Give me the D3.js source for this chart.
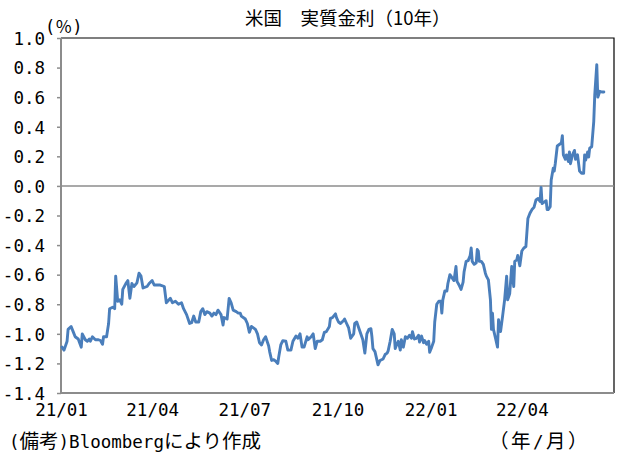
<!DOCTYPE html>
<html><head><meta charset="utf-8">
<script src="https://cdn.jsdelivr.net/npm/d3@7"></script>
<style>body{margin:0;background:#fff}svg{display:block}</style>
</head><body><svg id="c" width="642" height="461"></svg>
<script>
const titleText = "米国　実質金利（10年）";
const unitText = "(％)";
const sourceParts = [["(", "h"], ["備考", "f"], [")Bloomberg", "h"], ["により作成", "f"]];
const axisNoteParts = [["（", "f"], ["年", "f"], ["/", "h"], ["月", "f"], ["）", "f"]];
const yTicks = [1.0, 0.8, 0.6, 0.4, 0.2, 0.0, -0.2, -0.4, -0.6, -0.8, -1.0, -1.2, -1.4];
const xTickDates = ["2021-01-01","2021-04-01","2021-07-01","2021-10-01","2022-01-01","2022-04-01"];
const xTickLabels = ["21/01","21/04","21/07","21/10","22/01","22/04"];
const xDomain = ["2021-01-01","2022-07-01"];

const dates = [
"2021-01-02","2021-01-04","2021-01-07","2021-01-08","2021-01-11","2021-01-13","2021-01-15","2021-01-18","2021-01-21","2021-01-22",
"2021-01-25","2021-01-27","2021-01-29","2021-01-30","2021-02-01","2021-02-04","2021-02-07","2021-02-09","2021-02-11","2021-02-12",
"2021-02-15","2021-02-17","2021-02-18","2021-02-21","2021-02-23","2021-02-24","2021-02-26","2021-02-28","2021-03-02","2021-03-03",
"2021-03-06","2021-03-08","2021-03-10","2021-03-12","2021-03-14","2021-03-17","2021-03-19","2021-03-21","2021-03-23","2021-03-27",
"2021-03-29","2021-04-01","2021-04-03","2021-04-06","2021-04-09","2021-04-13","2021-04-15","2021-04-19","2021-04-21","2021-04-24",
"2021-04-27","2021-04-30","2021-05-02","2021-05-05","2021-05-08","2021-05-10","2021-05-12","2021-05-14","2021-05-17","2021-05-19",
"2021-05-21","2021-05-23","2021-05-25","2021-05-28","2021-05-30","2021-06-01","2021-06-03","2021-06-05","2021-06-08","2021-06-10",
"2021-06-11","2021-06-14","2021-06-16","2021-06-18","2021-06-20","2021-06-23","2021-06-25","2021-06-27","2021-06-28","2021-07-02",
"2021-07-04","2021-07-06","2021-07-08","2021-07-12","2021-07-14","2021-07-16","2021-07-18","2021-07-20","2021-07-22","2021-07-25",
"2021-07-26","2021-07-28","2021-07-30","2021-08-01","2021-08-03","2021-08-04","2021-08-06","2021-08-08","2021-08-11","2021-08-13",
"2021-08-16","2021-08-18","2021-08-21","2021-08-23","2021-08-25","2021-08-27","2021-08-29","2021-09-01","2021-09-02","2021-09-05",
"2021-09-07","2021-09-09","2021-09-11","2021-09-14","2021-09-16","2021-09-18","2021-09-20","2021-09-23","2021-09-24","2021-09-26",
"2021-09-29","2021-09-30","2021-10-02","2021-10-04","2021-10-07","2021-10-08","2021-10-10","2021-10-12","2021-10-14","2021-10-17",
"2021-10-18","2021-10-20","2021-10-22","2021-10-25","2021-10-26","2021-10-28","2021-10-30","2021-11-01","2021-11-03","2021-11-04",
"2021-11-05","2021-11-07","2021-11-10","2021-11-12","2021-11-15","2021-11-17","2021-11-19","2021-11-20","2021-11-22","2021-11-24",
"2021-11-26","2021-11-27","2021-11-28","2021-11-30","2021-12-02","2021-12-03","2021-12-05","2021-12-07","2021-12-09","2021-12-11",
"2021-12-13","2021-12-14","2021-12-16","2021-12-18","2021-12-20","2021-12-21","2021-12-23","2021-12-25","2021-12-26","2021-12-28",
"2021-12-30","2021-12-31","2022-01-02","2022-01-04","2022-01-05","2022-01-07","2022-01-09","2022-01-11","2022-01-12","2022-01-13",
"2022-01-15","2022-01-17","2022-01-18","2022-01-20","2022-01-22","2022-01-24","2022-01-26","2022-01-27","2022-01-29","2022-01-31",
"2022-02-02","2022-02-03","2022-02-05","2022-02-07","2022-02-09","2022-02-10","2022-02-11","2022-02-13","2022-02-15","2022-02-16",
"2022-02-17","2022-02-18","2022-02-20","2022-02-22","2022-02-24","2022-02-25","2022-02-27","2022-03-01","2022-03-02","2022-03-03",
"2022-03-04","2022-03-06","2022-03-08","2022-03-09","2022-03-11","2022-03-13","2022-03-15","2022-03-17","2022-03-18","2022-03-20",
"2022-03-22","2022-03-24","2022-03-25","2022-03-27","2022-03-28","2022-03-30","2022-04-01","2022-04-03","2022-04-05","2022-04-07",
"2022-04-09","2022-04-11","2022-04-13","2022-04-15","2022-04-17","2022-04-19","2022-04-20","2022-04-21","2022-04-23","2022-04-25",
"2022-04-26","2022-04-27","2022-04-29","2022-04-30","2022-05-02","2022-05-03","2022-05-04","2022-05-06","2022-05-08","2022-05-10",
"2022-05-11","2022-05-12","2022-05-14","2022-05-15","2022-05-17","2022-05-18","2022-05-19","2022-05-21","2022-05-23","2022-05-24",
"2022-05-26","2022-05-28","2022-05-30","2022-06-01","2022-06-02","2022-06-03","2022-06-05","2022-06-06","2022-06-07","2022-06-09",
"2022-06-11","2022-06-12","2022-06-14","2022-06-15","2022-06-17","2022-06-19","2022-06-21"
];
const values = [
-1.09,-1.11,-1.05,-0.97,-0.95,-0.985,-1.02,-1.035,-1.09,-1.00,
-1.04,-1.05,-1.035,-1.05,-1.02,-1.04,-1.04,-1.045,-1.07,-1.02,
-1.02,-0.93,-0.83,-0.82,-0.83,-0.61,-0.78,-0.77,-0.80,-0.70,
-0.66,-0.64,-0.76,-0.66,-0.68,-0.655,-0.59,-0.61,-0.69,-0.68,
-0.66,-0.64,-0.67,-0.67,-0.67,-0.68,-0.79,-0.76,-0.79,-0.78,
-0.80,-0.79,-0.83,-0.87,-0.93,-0.925,-0.88,-0.92,-0.92,-0.85,
-0.83,-0.87,-0.85,-0.86,-0.88,-0.86,-0.87,-0.84,-0.87,-0.94,
-0.89,-0.90,-0.76,-0.79,-0.84,-0.85,-0.86,-0.86,-0.88,-0.90,
-0.93,-0.99,-0.95,-0.97,-1.00,-1.06,-1.075,-1.04,-1.02,-1.08,
-1.12,-1.18,-1.175,-1.185,-1.20,-1.155,-1.075,-1.046,-1.05,-1.11,
-1.11,-1.05,-1.015,-1.03,-1.00,-1.09,-1.09,-1.02,-1.04,-1.02,
-1.00,-1.10,-1.05,-1.05,-1.04,-0.99,-0.985,-0.95,-0.895,-0.89,
-0.865,-0.89,-0.92,-0.93,-0.91,-0.90,-0.93,-0.96,-1.03,-1.00,
-0.93,-0.92,-0.96,-1.02,-1.04,-1.13,-1.00,-0.97,-0.965,-1.02,
-1.10,-1.12,-1.21,-1.18,-1.17,-1.14,-1.13,-1.115,-1.05,-0.97,
-1.00,-1.10,-1.08,-1.05,-1.11,-1.04,-1.09,-1.02,-1.03,-1.01,
-1.03,-0.985,-1.035,-1.03,-1.01,-1.055,-1.015,-1.06,-1.045,-1.07,
-1.05,-1.125,-1.09,-1.05,-0.92,-0.80,-0.78,-0.78,-0.86,-0.77,
-0.71,-0.71,-0.66,-0.60,-0.62,-0.64,-0.545,-0.645,-0.67,-0.70,
-0.65,-0.58,-0.51,-0.505,-0.47,-0.42,-0.51,-0.53,-0.52,-0.43,
-0.44,-0.51,-0.51,-0.53,-0.59,-0.61,-0.635,-0.77,-0.97,-0.86,
-0.97,-1.03,-1.09,-0.905,-0.985,-0.88,-0.77,-0.61,-0.77,-0.73,
-0.545,-0.68,-0.51,-0.50,-0.47,-0.54,-0.44,-0.42,-0.41,-0.22,
-0.185,-0.16,-0.145,-0.095,-0.085,-0.105,-0.01,-0.12,-0.11,-0.10,
-0.16,-0.16,-0.14,0.04,0.12,0.10,0.15,0.27,0.28,0.29,
0.34,0.21,0.18,0.21,0.165,0.23,0.15,0.21,0.24,0.18,
0.21,0.10,0.085,0.085,0.21,0.175,0.23,0.195,0.255,0.265,
0.435,0.615,0.82,0.60,0.64,0.635,0.635
];

const W = 642, H = 461;
const plot = {left: 61, right: 614, top: 38, bottom: 393};
const mono = "'DejaVu Sans Mono','Noto Sans CJK JP',monospace";
const cjk = "'Noto Sans CJK JP','DejaVu Sans',sans-serif";
const lineColor = "#4a7ebb";
const axisColor = "#8c8c8c";
const halfSize = 17.5, fullSize = 19.5;

const parse = d3.utcParse("%Y-%m-%d");
const data = dates.map((d, i) => ({date: parse(d), value: values[i]}));

const x = d3.scaleUtc().domain(xDomain.map(parse)).range([plot.left, plot.right]);
const y = d3.scaleLinear().domain([-1.4, 1.0]).range([plot.bottom, plot.top]);

const svg = d3.select("#c");
svg.append("rect").attr("width", W).attr("height", H).attr("fill", "#fff");

// plot frame (top & right)
svg.append("path")
  .attr("d", `M${plot.left},${y(1.0)}H${plot.right}V${plot.bottom}`)
  .attr("fill", "none").attr("stroke", "#000").attr("stroke-width", 1.2);

// zero line
svg.append("line")
  .attr("x1", plot.left).attr("x2", plot.right)
  .attr("y1", y(0)).attr("y2", y(0))
  .attr("stroke", axisColor).attr("stroke-width", 1.5);

// y axis
const yAxis = d3.axisLeft(y).tickValues(yTicks).tickSize(4).tickPadding(12)
  .tickFormat(d => d.toFixed(1));
const gy = svg.append("g").attr("transform", `translate(${plot.left},0)`).call(yAxis);
gy.select(".domain").attr("stroke", axisColor).attr("stroke-width", 2).attr("d", `M0,${plot.top}V${plot.bottom}`);
gy.selectAll(".tick line").attr("stroke", axisColor).attr("stroke-width", 1.5);
gy.selectAll(".tick text").attr("font-family", mono).attr("font-size", halfSize).attr("fill", "#000")
  .attr("dy", "0.36em");

// x axis
const xAxis = d3.axisBottom(x).tickValues(xTickDates.map(parse)).tickSize(0).tickPadding(11)
  .tickFormat((d, i) => xTickLabels[i]);
const gx = svg.append("g").attr("transform", `translate(0,${plot.bottom})`).call(xAxis);
gx.select(".domain").attr("stroke", axisColor).attr("stroke-width", 2).attr("d", `M${plot.left},0H${plot.right}`);
gx.selectAll(".tick text").attr("font-family", mono).attr("font-size", halfSize).attr("fill", "#000");

// line
const line = d3.line().x(d => x(d.date)).y(d => y(d.value));
svg.append("path").datum(data)
  .attr("d", line)
  .attr("fill", "none").attr("stroke", lineColor).attr("stroke-width", 2.9)
  .attr("stroke-linejoin", "round").attr("stroke-linecap", "round");

// title
svg.append("text").attr("x", 245).attr("y", 25)
  .attr("font-family", cjk).attr("font-size", 18.5).attr("fill", "#000")
  .text(titleText);

// unit
svg.append("text").attr("x", 45).attr("y", 33)
  .attr("font-family", mono).attr("font-size", 17).attr("fill", "#000")
  .text(unitText);

function partsText(parts, x0, y0, spacing) {
  const t = svg.append("text").attr("x", x0).attr("y", y0).attr("fill", "#000")
    .attr("letter-spacing", spacing);
  parts.forEach(([s, kind]) => {
    t.append("tspan")
      .attr("font-family", kind === "f" ? cjk : mono)
      .attr("font-size", kind === "f" ? fullSize : halfSize)
      .text(s);
  });
}
partsText(sourceParts, 9, 448, 0);
partsText(axisNoteParts, 489, 448, 2.5);
</script>
</body></html>
